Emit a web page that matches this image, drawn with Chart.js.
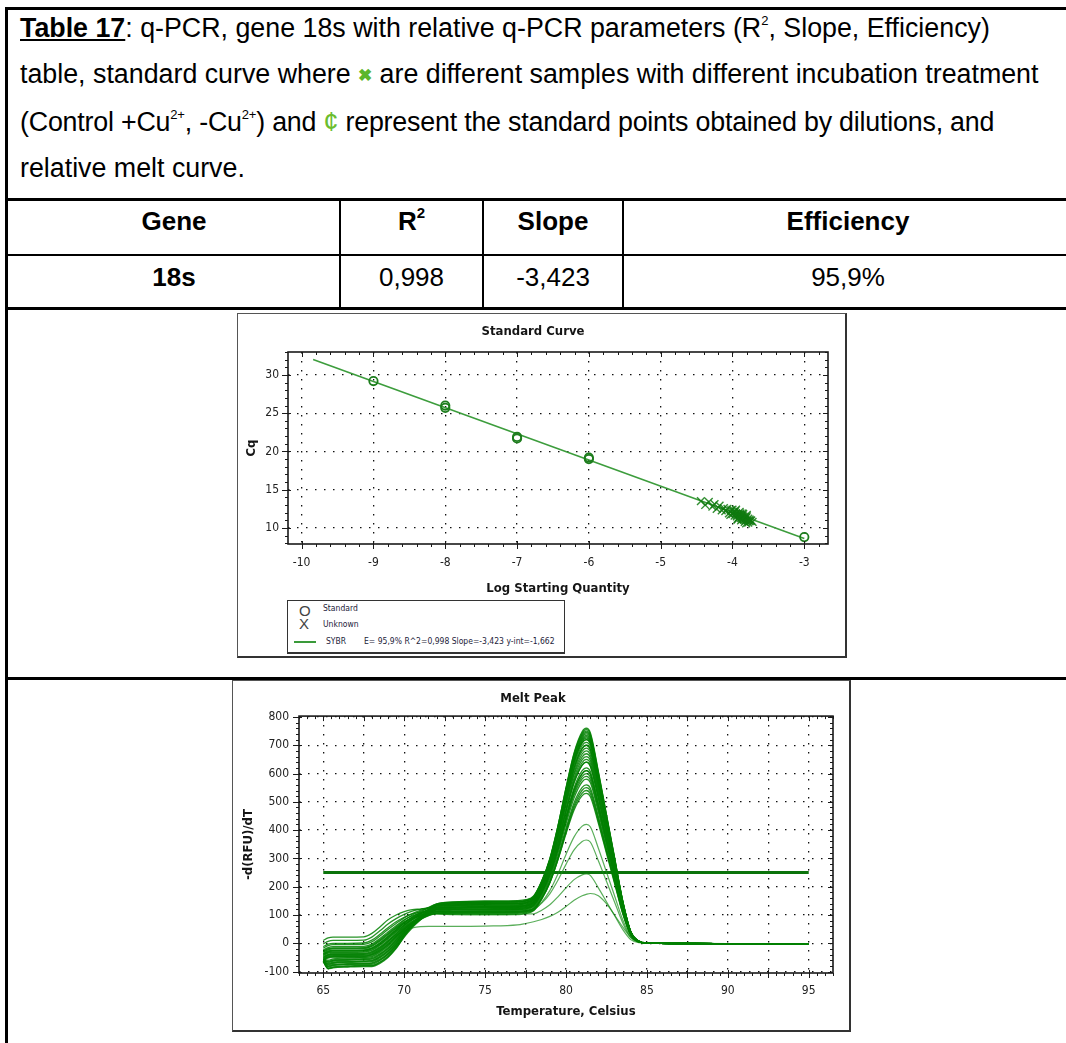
<!DOCTYPE html>
<html>
<head>
<meta charset="utf-8">
<title>q-PCR 18s</title>
<script src="https://cdn.jsdelivr.net/npm/chart.js@4.4.1/dist/chart.umd.min.js"></script>
<style>
  body { margin: 0; background: #fff; }
  #page { position: relative; width: 1066px; height: 1043px; overflow: hidden;
          font-family: 'Liberation Sans', Arial, Helvetica, sans-serif; color: #000; }
  .rule { position: absolute; background: #000; }
  .caption { position: absolute; left: 20px; top: 5px; font-size: 26.8px; line-height: 46px; white-space: nowrap; }
  .caption sup { font-size: 13px; line-height: 0; vertical-align: 12px; }
  .caption .lab { font-weight: bold; text-decoration: underline; }
  .caption .mark { color: #5bb62b; font-weight: bold; font-size: 17px; vertical-align: 2px; }
  .caption .cent { color: #6cbd2e; }
  .caption .tight { letter-spacing: -0.2px; }
  .cell { position: absolute; height: 40px; line-height: 40px; font-size: 26px; text-align: center; white-space: nowrap; }
  .cell.b { font-weight: bold; }
  .cell sup { font-size: 15px; line-height: 0; vertical-align: 12px; }
  .box { position: absolute; box-sizing: border-box; border: 1px solid #555; border-right-width: 2px; border-bottom-width: 2px; border-right-color: #333; border-bottom-color: #333; }
  canvas { position: absolute; }
  .legend { position: absolute; box-sizing: border-box; border: 1px solid #333; border-bottom-width: 2px;
            font-family: 'Liberation Sans Narrow', 'DejaVu Sans Condensed', Arial, sans-serif; }
  .legend span { position: absolute; white-space: nowrap; }
  .legend .sym { font-family: Arial, 'Liberation Sans', sans-serif; font-size: 15px; line-height: 16px; color: #444; }
  .legend .txt { font-size: 8.5px; line-height: 10px; color: #1c1c3a; }
</style>
</head>
<body>
<div id="page">
  <!-- table frame -->
  <div class="rule" style="left:5px; top:7px; width:1080px; height:3px"></div>
  <div class="rule" style="left:5px; top:7px; width:3px; height:1040px"></div>
  <div class="rule" style="left:5px; top:198px; width:1080px; height:3px"></div>
  <div class="rule" style="left:5px; top:254px; width:1080px; height:2px"></div>
  <div class="rule" style="left:5px; top:307px; width:1080px; height:3px"></div>
  <div class="rule" style="left:5px; top:677px; width:1080px; height:3px"></div>
  <div class="rule" style="left:339px; top:200px; width:2px; height:108px"></div>
  <div class="rule" style="left:482px; top:200px; width:2px; height:108px"></div>
  <div class="rule" style="left:622px; top:200px; width:2px; height:108px"></div>

  <div class="caption">
    <span class="lab">Table 17</span>: q-PCR, gene 18s with relative q-PCR parameters (R<sup>2</sup>, Slope, Efficiency)<br>
    table, standard curve where <span class="mark">&#x2716;</span> are different samples with different incubation treatment<br>
    <span class="tight">(Control +Cu<sup>2+</sup>, -Cu<sup>2+</sup>) and <span class="cent">&cent;</span> represent the standard points obtained by dilutions, and</span><br>
    relative melt curve.
  </div>

  <div class="cell b" style="left:8px; width:332px; top:201px">Gene</div>
  <div class="cell b" style="left:340px; width:143px; top:201px">R<sup>2</sup></div>
  <div class="cell b" style="left:483px; width:140px; top:201px">Slope</div>
  <div class="cell b" style="left:623px; width:450px; top:201px">Efficiency</div>
  <div class="cell b" style="left:8px; width:332px; top:257px">18s</div>
  <div class="cell" style="left:340px; width:143px; top:257px">0,998</div>
  <div class="cell" style="left:483px; width:140px; top:257px">-3,423</div>
  <div class="cell" style="left:623px; width:450px; top:257px">95,9%</div>

  <div class="box" style="left:237px; top:313px; width:610px; height:345px"></div>
  <canvas id="stdChart" width="607" height="282" style="left:238px; top:314px"></canvas>
  <div class="legend" style="left:287px; top:600px; width:278px; height:54px">
    <span class="sym" style="left:11px; top:2px">O</span>
    <span class="txt" style="left:35px; top:2px">Standard</span>
    <span class="sym" style="left:11px; top:15px">X</span>
    <span class="txt" style="left:35px; top:18px">Unknown</span>
    <span style="left:6px; top:40px; width:22px; height:2px; background:#3a9a3a"></span>
    <span class="txt" style="left:38px; top:35px">SYBR</span>
    <span class="txt" style="left:76px; top:35px">E= 95,9% R^2=0,998 Slope=-3,423 y-int=-1,662</span>
  </div>

  <div class="box" style="left:232px; top:680px; width:619px; height:352px"></div>
  <canvas id="meltChart" width="616" height="348" style="left:233px; top:681px"></canvas>
</div>

<script>
// standard curve
const logQtyTicks = [-10, -9, -8, -7, -6, -5, -4, -3];
const cqTicks = [10, 15, 20, 25, 30];
const standardLogQty = [-9, -8, -8, -7, -7, -6, -6, -3];
const standardCq = [29.2, 26.0, 25.7, 21.9, 21.7, 19.2, 19.0, 8.8];
const unknownLogQty = [-4.44, -4.38, -4.33, -4.28, -4.25, -4.22, -4.18, -4.15, -4.12, -4.10,
                       -4.07, -4.05, -4.02, -4.00, -3.98, -3.97, -3.95, -3.94, -3.92, -3.91,
                       -3.90, -3.88, -3.87, -3.86, -3.85, -3.84, -3.83, -3.82, -3.81, -3.80,
                       -3.79, -3.78, -3.77, -3.76, -3.74, -3.72, -3.96, -3.89, -4.03, -3.93,
                       -3.95, -3.90, -3.85, -3.80, -3.78, -3.83, -3.88, -3.93, -4.00, -3.86,
                       -3.75, -3.81];
const unknownCq = [13.5, 13.0, 13.4, 12.8, 13.1, 12.5, 12.9, 12.3, 12.6, 12.2,
                   12.5, 11.9, 12.3, 11.8, 12.1, 11.6, 11.9, 11.5, 11.8, 11.4,
                   11.7, 11.3, 11.6, 11.2, 11.5, 11.1, 11.4, 11.0, 11.3, 11.5,
                   11.0, 11.2, 10.9, 11.1, 11.0, 10.8, 12.2, 11.9, 11.7, 11.2,
                   12.4, 12.1, 11.8, 11.7, 10.7, 10.8, 11.0, 11.1, 12.4, 11.9,
                   10.9, 10.6];
const fitSlope = -3.423;
const fitIntercept = -1.662;
const fitRange = [-9.84, -3];

// melt peak
const tempTicks = [65, 67.5, 70, 72.5, 75, 77.5, 80, 82.5, 85, 87.5, 90, 92.5, 95];
const rfuTicks = [-100, 0, 100, 200, 300, 400, 500, 600, 700, 800];
const meltTemps = [65, 65.3, 65.6, 66.5, 67.5, 68, 68.5, 69, 69.5, 70, 70.5, 71, 71.5, 72,
                   73, 75, 77, 77.5, 78, 78.5, 79, 79.5, 80, 80.5, 81, 81.25, 81.5, 82,
                   82.5, 83, 83.5, 84, 84.5, 85, 90, 95];
const meltCurves = [
  [10,19,22,22,23, 35,58,83,100,112,119,121,124,127, 128,128,129,132, 146,201,281,397,532,654,728,740, 725,592,444,296,148,41,7, 1,-1,-4],
  [-2,7,10,10,11, 22,44,68,87,102,114,120,125,132, 134,135,136,139, 152,203,276,384,508,621,689,700, 686,560,420,280,140,39,7, 1,-1,-4],
  [-12,-3,0,0,1, 11,32,55,76,92,104,110,114,118, 118,118,119,122, 133,177,241,334,443,541,600,610, 598,488,366,244,122,34,6, 1,-1,-4],
  [-17,-8,-5,-5,-4, 5,26,49,70,90,105,116,125,135, 139,140,141,144, 159,214,295,413,549,673,748,760, 745,608,456,304,152,42,8, 1,-1,-4],
  [-24,-15,-12,-12,-11, -3,17,40,62,83,97,107,114,121, 122,122,123,126, 138,185,254,354,470,576,639,650, 637,520,390,260,130,36,7, 1,-1,-4],
  [-28,-19,-16,-16,-15, -7,12,35,58,81,100,113,126,138, 143,145,146,149, 162,214,289,398,525,640,709,720, 706,576,432,288,144,40,7, 1,-1,-4],
  [-32,-23,-20,-20,-19, -11,7,30,53,75,91,100,108,112, 112,112,113,116, 126,168,229,318,421,514,571,580, 568,464,348,232,116,32,6, 1,-1,-4],
  [-36,-27,-24,-24,-23, -16,2,25,49,73,92,106,118,127, 131,132,133,136, 149,199,272,378,500,612,679,690, 676,552,414,276,138,38,7, 1,-1,-4],
  [-40,-31,-28,-28,-27, -20,-3,20,44,72,93,109,126,139, 145,148,149,152, 166,220,299,413,545,666,738,750, 735,600,450,300,150,41,8, 1,-1,-4],
  [-44,-35,-32,-32,-31, -25,-7,15,40,65,85,99,110,118, 119,120,121,124, 135,180,245,340,450,550,610,620, 608,496,372,248,124,34,6, 1,-1,-4],
  [-48,-39,-36,-36,-35, -29,-12,10,35,64,86,104,119,131, 136,138,139,142, 156,209,286,398,529,647,718,730, 715,584,438,292,146,40,7, 1,-1,-4],
  [-52,-43,-40,-40,-39, -34,-17,5,31,57,77,90,100,106, 105,105,106,109, 118,157,214,296,392,479,531,540, 529,432,324,216,108,30,5, 1,-1,-4],
  [-56,-47,-44,-44,-43, -38,-22,0,26,57,82,102,119,134, 140,142,143,146, 159,210,284,392,517,630,699,710, 696,568,426,284,142,39,7, 1,-1,-4],
  [-60,-51,-48,-48,-47, -42,-27,-5,22,52,77,94,110,121, 125,126,127,130, 142,190,260,361,478,585,649,660, 647,528,396,264,132,36,7, 1,-1,-4],
  [-56,-60,-55,-52,-50, -47,-32,-10,17,48,72,90,104,113, 114,115,116,119, 130,173,236,328,435,532,590,600, 588,480,360,240,120,33,6, 1,-1,-4],
  [-57,-64,-59,-56,-54, -51,-37,-15,13,46,74,95,113,128, 133,135,136,139, 153,208,288,403,538,660,733,745, 730,596,447,298,149,41,7, 1,-1,-4],
  [-58,-68,-63,-60,-58, -56,-42,-20,8,40,66,84,98,107, 108,108,109,112, 122,162,221,307,406,497,551,560, 549,448,336,224,112,31,6, 1,-1,-4],
  [-59,-72,-67,-64,-62, -60,-46,-25,4,39,67,90,109,124, 128,130,131,134, 147,196,268,372,493,603,669,680, 666,544,408,272,136,37,7, 1,-1,-4],
  [-60,-76,-71,-68,-66, -65,-51,-30,-1,37,69,94,118,135, 143,146,147,150, 164,219,298,414,548,670,743,755, 740,604,453,302,151,42,8, 1,-1,-4],
  [-62,-80,-75,-72,-70, -69,-56,-35,-5,31,60,84,101,114, 117,118,119,122, 134,181,249,348,463,567,630,640, 627,512,384,256,128,35,6, 1,-1,-4],
  [-63,-84,-79,-76,-74, -74,-61,-40,-10,28,60,84,104,119, 123,125,126,129, 142,194,269,378,505,620,689,700, 686,560,420,280,140,39,7, 1,-1,-4],
  [-64,-88,-83,-80,-78, -78,-66,-45,-14,27,62,92,118,138, 146,150,151,154, 167,219,294,403,530,645,714,725, 711,580,435,290,145,40,7, 1,-1,-4],
  [-65,-90,-87,-84,-82, -82,-71,-50,-19,22,55,82,105,121, 126,128,129,132, 142,183,244,331,433,525,581,590, 578,472,354,236,118,32,6, 1,-1,-4],
  [-38,-29,-26,-26,-25, -18,0,23,47,70,86,97,105,111, 110,110,111,114, 123,160,215,295,387,471,522,530, 519,424,318,212,106,29,5, 1,-1,-4],
  [-50,-41,-38,-38,-37, -31,-15,8,33,62,85,104,120,133, 138,140,141,144, 156,204,273,373,490,596,659,670, 657,536,402,268,134,37,7, 1,-1,-4],
  [-58,-49,-46,-46,-45, -40,-25,-3,24,51,73,87,98,104, 103,102,103,106, 115,156,214,299,398,487,541,550, 539,440,330,220,110,30,6, 1,-1,-4],
  [-57,-66,-61,-58,-56, -54,-39,-18,11,43,69,90,106,118, 121,122,123,126, 137,181,244,337,444,542,600,610, 598,488,366,244,122,34,6, 1,-1,-4],
  [-60,-74,-69,-66,-64, -62,-49,-27,2,37,66,90,109,123, 128,130,131,134, 145,191,258,354,467,569,630,640, 627,512,384,256,128,35,6, 1,-1,-4],
  [-62,-82,-77,-74,-72, -71,-59,-38,-7,31,65,92,116,134, 142,145,146,149, 163,216,293,405,534,652,723,735, 720,588,441,294,147,40,7, 1,-1,-4],
  [-65,-90,-85,-82,-80, -80,-68,-48,-16,24,59,86,110,128, 135,138,139,142, 155,208,284,394,522,639,708,720, 706,576,432,288,144,40,7, 1,-1,-4]
];
// samples with a weaker product peak
const weakCurves = [
  [-42,-33,-30,-30,-29, -23,-5,18,42,66,84,96,104,109, 108,108,109,112, 117,145,186,245,314,376,414,420, 412,336,252,168,84,23,4, 1,-1,-4],
  [-62,-53,-50,-50,-49, -45,-29,-8,20,49,73,90,102,111, 112,112,113,116, 120,142,175,223,279,330,360,365, 358,292,219,146,73,20,4, 1,-1,-4],
  [-30,-21,-18,-18,-17, -9,10,33,55,75,89,97,101,104, 101,100,101,104, 104,117,136,164,196,225,242,245, 240,196,147,98,49,13,2, 1,-1,-4],
  [-54,-45,-42,-42,-41, -36,-20,5,28,44,54,59,60,60, 60,61,65,70, 76,84,95,110,130,152,168,173, 176,168,140,100,58,22,5, 1,-1,-4]
];
const thresholdTemps = [65, 95];
const thresholdLevel = 250;

const NARROW = "'Liberation Sans Narrow', 'DejaVu Sans Condensed', 'Arial Narrow', sans-serif";
Chart.defaults.font.family = NARROW;

// plot frame with minor tick marks on all four sides
const frameTicks = {
  id: 'frameTicks',
  afterDatasetsDraw(chart, args, opts) {
    const { ctx, chartArea: a, scales: { x, y } } = chart;
    ctx.save();
    ctx.strokeStyle = '#1a1a1a';
    ctx.lineWidth = 1;
    ctx.beginPath();
    for (let i = Math.ceil(x.min / opts.xStep - 1e-9); i * opts.xStep <= x.max + 1e-9; i++) {
      const px = Math.round(x.getPixelForValue(i * opts.xStep)) + 0.5;
      const major = i % opts.xEvery === 0;
      ctx.moveTo(px, a.bottom - (major ? 3 : 0));
      ctx.lineTo(px, a.bottom + (major ? 5 : 3));
      ctx.moveTo(px, a.top);
      ctx.lineTo(px, a.top + (major ? 5 : 3));
    }
    for (let i = Math.ceil(y.min / opts.yStep - 1e-9); i * opts.yStep <= y.max + 1e-9; i++) {
      const py = Math.round(y.getPixelForValue(i * opts.yStep)) + 0.5;
      const major = i % opts.yEvery === 0;
      ctx.moveTo(a.left - (major ? 6 : 3), py);
      ctx.lineTo(a.left + (major ? 3 : 0), py);
      ctx.moveTo(a.right, py);
      ctx.lineTo(a.right - (major ? 5 : 3), py);
    }
    ctx.stroke();
    ctx.lineWidth = 1.6;
    ctx.strokeRect(a.left, a.top, a.right - a.left, a.bottom - a.top);
    ctx.restore();
  }
};

const tickFont = { family: NARROW, size: 12 };
const titleFont = { family: NARROW, size: 13, weight: 'bold' };
const dotted = { display: false, dash: [1.5, 7.5] };
const gridStyle = { color: '#111', lineWidth: 1.3, drawTicks: false };

new Chart(document.getElementById('stdChart'), {
  type: 'scatter',
  data: {
    datasets: [
      {
        label: 'Unknown',
        data: unknownLogQty.map((v, i) => ({ x: v, y: unknownCq[i] })),
        pointStyle: 'crossRot', pointRadius: 5.5,
        borderColor: 'rgba(15, 122, 15, 0.85)', borderWidth: 1.4
      },
      {
        label: 'Standard',
        data: standardLogQty.map((v, i) => ({ x: v, y: standardCq[i] })),
        pointStyle: 'circle', pointRadius: 4.2,
        borderColor: '#1d7d1d', backgroundColor: 'rgba(0,0,0,0)', borderWidth: 1.8
      },
      {
        label: 'SYBR',
        data: fitRange.map(v => ({ x: v, y: fitSlope * v + fitIntercept })),
        showLine: true, pointRadius: 0,
        borderColor: '#3d9d3d', borderWidth: 1.6
      }
    ]
  },
  options: {
    responsive: false, animation: false, devicePixelRatio: 1,
    layout: { padding: { right: 17 } },
    plugins: {
      legend: { display: false },
      tooltip: { enabled: false },
      title: { display: true, text: 'Standard Curve', font: titleFont, color: '#151515', padding: { top: 10, bottom: 12.4 } },
      frameTicks: { xStep: 0.2, xEvery: 5, yStep: 1, yEvery: 5 }
    },
    scales: {
      x: {
        type: 'linear', min: -10.19, max: -2.67,
        afterBuildTicks: s => { s.ticks = logQtyTicks.map(v => ({ value: v })); },
        afterFit: s => { s.height = 52; },
        grid: gridStyle, border: dotted,
        ticks: { font: tickFont, color: '#222', padding: 12, autoSkip: false, maxRotation: 0 },
        title: { display: true, text: 'Log Starting Quantity', font: titleFont, color: '#151515', padding: { top: 0, bottom: 0 } }
      },
      y: {
        min: 7.9, max: 33.0,
        afterBuildTicks: s => { s.ticks = cqTicks.map(v => ({ value: v })); },
        afterFit: s => { s.width = 50; },
        grid: gridStyle, border: dotted,
        ticks: { font: tickFont, color: '#222', padding: 9, autoSkip: false },
        title: { display: true, text: 'Cq', font: titleFont, color: '#151515', padding: { top: 6, bottom: 0 } }
      }
    }
  },
  plugins: [frameTicks]
});

const curveSets = meltCurves.map(c => ({
  data: meltTemps.map((t, i) => ({ x: t, y: c[i] })),
  borderColor: 'rgba(0, 128, 0, 0.85)', borderWidth: 1.3
})).concat(weakCurves.map(c => ({
  data: meltTemps.map((t, i) => ({ x: t, y: c[i] })),
  borderColor: 'rgba(20, 140, 20, 0.7)', borderWidth: 1.2
})));

new Chart(document.getElementById('meltChart'), {
  type: 'line',
  data: {
    datasets: curveSets.map(d => Object.assign(d, { pointRadius: 0, cubicInterpolationMode: 'monotone', fill: false }))
      .concat([{
        data: thresholdTemps.map(t => ({ x: t, y: thresholdLevel })),
        borderColor: '#0b730b', borderWidth: 3, pointRadius: 0, fill: false
      }])
  },
  options: {
    responsive: false, animation: false, devicePixelRatio: 1,
    layout: { padding: { right: 16 } },
    plugins: {
      legend: { display: false },
      tooltip: { enabled: false },
      title: { display: true, text: 'Melt Peak', font: titleFont, color: '#151515', padding: { top: 10, bottom: 9.5 } },
      frameTicks: { xStep: 0.5, xEvery: 5, yStep: 20, yEvery: 5 }
    },
    scales: {
      x: {
        type: 'linear', min: 63.5, max: 96.5,
        afterBuildTicks: s => { s.ticks = tempTicks.map(v => ({ value: v })); },
        afterFit: s => { s.height = 56; },
        grid: gridStyle, border: dotted,
        ticks: { font: tickFont, color: '#222', padding: 11, autoSkip: false, maxRotation: 0,
                 callback: v => (v % 5 === 0 ? String(v) : '') },
        title: { display: true, text: 'Temperature, Celsius', font: titleFont, color: '#151515', padding: { top: 0, bottom: 10 } }
      },
      y: {
        type: 'linear', min: -105, max: 803,
        afterBuildTicks: s => { s.ticks = rfuTicks.map(v => ({ value: v })); },
        afterFit: s => { s.width = 66; },
        grid: gridStyle, border: dotted,
        ticks: { font: tickFont, color: '#222', padding: 10, autoSkip: false },
        title: { display: true, text: '-d(RFU)/dT', font: titleFont, color: '#151515', padding: { top: 8, bottom: 0 } }
      }
    }
  },
  plugins: [frameTicks]
});
</script>
</body>
</html>
